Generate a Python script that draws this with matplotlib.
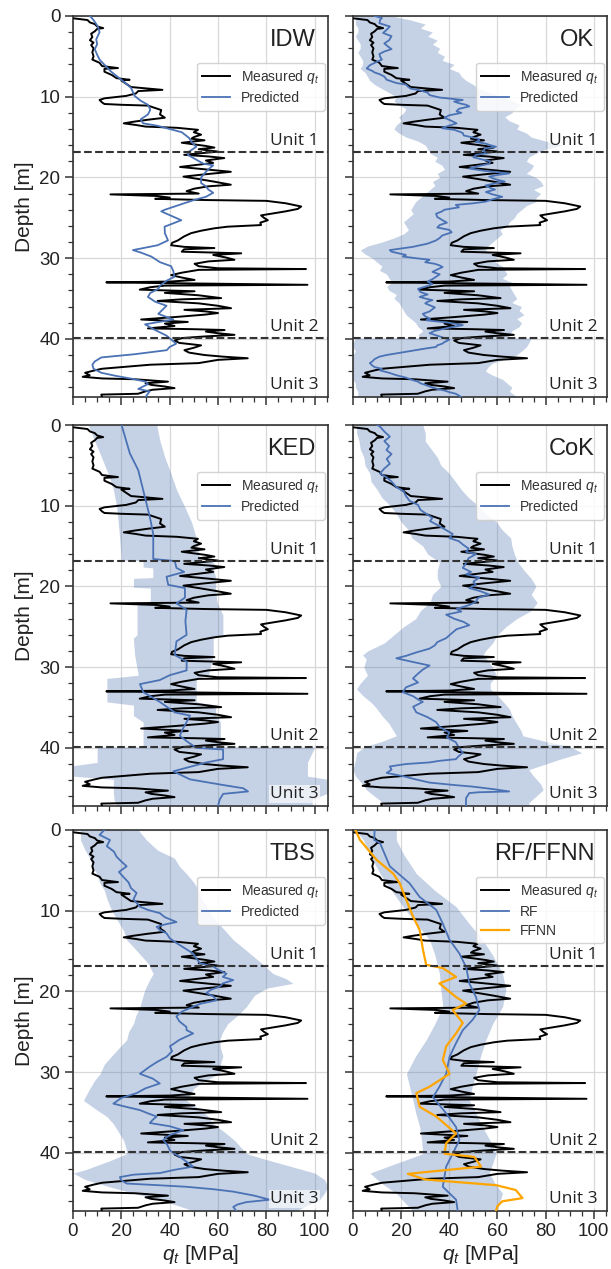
import numpy as np
import matplotlib
matplotlib.use('Agg')
import matplotlib.pyplot as plt
import matplotlib.transforms as mtransforms
from matplotlib.ticker import MultipleLocator

plt.rcParams['font.family'] = ['Liberation Sans', 'DejaVu Sans']
plt.rcParams['mathtext.fontset'] = 'custom'
plt.rcParams['mathtext.it'] = 'Liberation Sans:italic'
plt.rcParams['mathtext.rm'] = 'Liberation Sans'

# ---------------- data ----------------
unit_boundaries = [16.8, 39.85]

meas_depth = [0.3, 0.5, 0.8, 1.0, 1.3, 1.5, 1.6, 1.9, 2.2, 2.6, 3.0, 3.3, 3.6, 4.0, 4.5, 5.0, 5.4, 5.8, 6.2, 6.45,
              6.55, 6.9, 7.3, 7.7, 7.9, 8.0, 8.4, 8.8, 9.15, 9.3, 9.6, 9.9, 10.2, 10.4, 10.7, 10.9, 11.0, 11.1, 11.4, 11.65,
              12.2, 12.6, 12.85, 13.1, 13.3, 13.5, 13.7, 13.85, 14.1, 14.4, 14.7, 15.0, 15.2, 15.4, 15.7, 15.9, 16.1, 16.3, 16.5, 16.8,
              17.0, 17.2, 17.4, 17.6, 17.9, 18.2, 18.5, 18.7, 19.0, 19.3, 19.6, 19.9, 20.2, 20.5, 20.9, 21.1, 21.4, 21.7, 22.0, 22.1,
              22.3, 22.5, 22.65, 22.8, 22.9, 23.2, 23.6, 23.9, 24.2, 24.5, 24.7, 25.0, 25.3, 25.6, 25.9, 26.1, 26.3, 26.6, 26.9, 27.3,
              27.8, 28.1, 28.4, 28.6, 28.75, 28.9, 29.2, 29.4, 29.6, 29.9, 30.2, 30.4, 30.7, 31.0, 31.25, 31.35, 31.45, 31.8, 32.1, 32.4,
              32.7, 32.9, 33.0, 33.1, 33.3, 33.4, 33.6, 33.9, 34.1, 34.3, 34.6, 34.95, 35.1, 35.3, 35.6, 35.9, 36.2, 36.4, 36.6, 36.8,
              37.0, 37.3, 37.6, 37.9, 38.1, 38.4, 38.7, 38.8, 38.9, 39.1, 39.3, 39.5, 39.7, 39.9, 40.2, 40.5, 40.8, 41.1, 41.4, 41.7,
              42.0, 42.2, 42.4, 42.6, 43.0, 43.2, 43.5, 43.7, 43.9, 44.2, 44.5, 44.7, 44.9, 45.0, 45.3, 45.5, 45.7, 45.9, 46.1, 46.3,
              46.5, 46.8, 46.9, 47.2]
meas_qt = [0.5, 6, 7, 9, 10, 12.5, 10, 9, 7.5, 8, 7, 8.5, 7.5, 8.5, 8, 8.5, 8, 11, 12, 18.6,
           13, 13, 16, 18, 23.4, 20, 22, 24, 37, 27, 26, 22, 13, 11, 12, 13, 20, 31, 34, 36.5,
           36, 38, 31, 25, 21, 26, 30, 43, 51.7, 50, 53, 50, 49, 54.4, 45, 50, 55, 58.5, 52, 60,
           53, 46, 56, 62.6, 55, 58, 50, 44.3, 55, 65.3, 55, 45.7, 52, 58, 65.3, 56, 50, 47, 52, 15.5,
           35, 40, 34, 55, 80, 88, 94.4, 93, 88, 82, 77.8, 79, 80.6, 77.5, 77.8, 64, 58.5, 53, 48.9, 46,
           43.4, 41, 40.6, 46, 58.5, 46, 45, 69.6, 58, 63, 66.8, 56, 50.3, 52, 60, 96.4, 52, 45, 40.6, 45,
           50.3, 40, 13.8, 40, 97, 38, 32, 27.6, 50.3, 38, 52, 61.3, 45, 35, 52, 60, 65.4, 46.1, 55, 60,
           54.4, 42, 28.2, 47.5, 38, 42, 31, 50, 62.7, 55, 60, 66.8, 54.4, 45, 42, 44, 53, 50, 46.1, 48,
           54.4, 62, 72.3, 60, 52, 32, 20, 12, 9, 5, 6.9, 4, 12, 25.5, 39.3, 30, 32.4, 38, 42, 33,
           30, 26.9, 11.7, 12]

# IDW prediction
idw_depth = [0, 0.5, 1.3, 2.0, 2.9, 3.5, 4.1, 4.8, 5.4, 6.2, 6.9, 7.9, 8.9, 9.9, 10.5, 11.0, 11.6, 12.2, 12.8, 13.3,
             13.6, 14.0, 14.4, 15.1, 15.6, 16.2, 16.8, 17.2, 17.8, 18.3, 18.5, 19.0, 19.3, 20.0, 20.7, 21.1, 21.5, 21.9, 22.4, 22.8,
             23.3, 24.0, 24.2, 24.8, 25.3, 26.1, 26.9, 27.8, 28.4, 29.0, 29.3, 29.8, 30.5, 31.0, 31.6, 32.3, 32.8, 33.4, 33.8, 34.3,
             34.8, 35.4, 35.9, 36.4, 36.9, 37.6, 38.2, 38.9, 39.6, 40.6, 41.0, 41.4, 41.9, 42.3, 42.8, 43.2, 43.7, 44.2, 44.6, 45.0,
             45.3, 45.6, 46.2, 46.5, 47.2]
idw_qt = [7, 8.5, 10.3, 11, 9.6, 10, 9, 10, 11, 13.5, 15.8, 20, 24, 25.5, 28, 31, 32, 31, 28, 29,
          35, 40, 45, 48, 49, 51, 48, 47.5, 51, 54, 58, 56, 55, 53, 53, 55, 56, 58, 55, 50,
          45, 38, 36.5, 41, 44.8, 37.9, 38, 39.3, 35, 24.8, 28, 32.4, 36, 40.6, 41.5, 42, 38.7, 36, 35.3, 32,
          31, 34, 38.7, 37, 35.3, 41.5, 29.8, 34, 38.7, 42.7, 40, 38.8, 25.5, 11.7, 9, 8, 8.5, 11.7, 18, 25.5,
          30, 31, 27, 31.7, 30]

# OK prediction and band
ok_depth = [0, 0.25, 0.5, 0.9, 1.3, 1.7, 2.1, 2.5, 3.0, 3.4, 3.8, 4.1, 4.4, 4.7, 5.0, 5.4, 5.8, 6.1, 6.5, 6.8,
            7.0, 7.2, 7.5, 7.9, 8.3, 8.5, 8.8, 9.0, 9.2, 9.5, 9.8, 10.1, 10.4, 10.6, 10.8, 11.0, 11.2, 11.5, 11.8, 12.0,
            12.3, 12.6, 13.0, 13.3, 13.7, 13.9, 14.1, 14.3, 14.5, 14.8, 15.0, 15.2, 15.4, 15.6, 15.8, 16.0, 16.2, 16.4, 16.7, 17.0,
            17.2, 17.5, 17.8, 18.0, 18.3, 18.6, 18.9, 19.2, 19.5, 19.7, 19.9, 20.1, 20.3, 20.5, 20.7, 21.0, 21.3, 21.5, 21.8, 22.1,
            22.4, 22.7, 23.0, 23.2, 23.4, 23.7, 24.0, 24.2, 24.5, 24.9, 25.3, 25.6, 25.9, 26.2, 26.5, 26.8, 27.2, 27.5, 27.8, 28.2,
            28.6, 28.8, 29.0, 29.2, 29.4, 29.6, 29.8, 30.0, 30.2, 30.5, 30.7, 30.9, 31.1, 31.4, 31.7, 32.0, 32.3, 32.6, 32.9, 33.2,
            33.5, 33.8, 34.2, 34.5, 34.8, 35.0, 35.2, 35.4, 35.6, 36.1, 36.6, 36.9, 37.2, 37.5, 37.7, 38.0, 38.3, 38.6, 38.8, 39.0,
            39.3, 39.7, 40.1, 40.4, 40.6, 40.8, 41.0, 41.2, 41.5, 41.8, 42.0, 42.2, 42.5, 42.8, 43.0, 43.3, 43.5, 43.7, 43.9, 44.2,
            44.5, 44.8, 45.1, 45.3, 45.5, 45.7, 45.9, 46.2, 46.4, 46.6, 46.8, 47.2]
ok_qt = [9, 12, 11.2, 11, 15.3, 14, 12.5, 16, 15, 13, 14.6, 16, 13, 11, 11.2, 12, 9, 7, 5.7, 8,
         9, 11, 13, 14, 18, 22, 23, 24, 27.7, 31, 31.8, 36, 45.6, 42, 44, 47, 48.3, 44, 43, 45,
         40, 38, 41, 43, 38.7, 37, 42, 44, 45.6, 46, 49, 52, 52.5, 51, 55, 57, 59.4, 55, 54, 56,
         51.1, 50, 54, 57, 56.6, 52, 48.3, 55, 64.9, 60, 56.6, 58, 60, 63, 59.4, 55, 57, 59, 55.2, 58,
         62, 58, 55, 50, 42.7, 44, 38, 37, 34.5, 35, 37.2, 39, 36, 35, 40, 41, 37, 36, 34.5, 31,
         24.8, 20, 15.3, 16, 19, 22, 20.7, 26, 31.8, 30, 34, 36, 37.2, 35, 33, 36, 34.5, 33, 31, 33,
         30.4, 27, 28, 31, 27.7, 30, 33, 31, 30, 34, 31.8, 29, 30, 32, 30.4, 40, 45.6, 40, 37, 34,
         31.8, 36, 40, 38, 37, 35, 34.5, 30, 24, 18, 13.9, 11, 9, 8, 7, 8, 9, 12, 11.2, 15,
         18, 22, 24.8, 27, 28, 30, 31.8, 35, 38, 40, 42.7, 45]
ok_band_depth = [0, 0.5, 1, 1.5, 2, 2.5, 3, 3.5, 4, 4.5, 5, 5.5, 6, 6.5, 7, 7.5, 8, 8.5, 9, 9.5,
                 10, 10.5, 11, 11.5, 12, 12.5, 13, 13.5, 14, 14.5, 15, 15.5, 16, 16.5, 17, 17.5, 18, 18.5, 19, 19.5,
                 20, 20.5, 21, 21.5, 22, 22.5, 23, 23.5, 24, 24.5, 25, 25.5, 26, 26.5, 27, 27.5, 28, 28.5, 29, 29.5,
                 30, 30.5, 31, 31.5, 32, 32.5, 33, 33.5, 34, 34.5, 35, 35.5, 36, 36.5, 37, 37.5, 38, 38.5, 39, 39.5,
                 39.85, 39.9, 40.5, 41, 41.5, 42, 42.5, 43, 43.5, 44, 44.5, 45, 45.5, 46, 46.5, 47.2]
ok_lo = [1, 1, 1, 2, 2, 1, 2, 3, 3, 2, 3, 4, 4, 3, 5, 6, 7, 9, 12, 15,
         18, 17, 19, 22, 21, 19, 20, 18, 17, 19, 22, 27, 30, 31, 32, 35, 34, 37, 38, 35,
         36, 33, 34, 32, 30, 28, 26, 25, 24, 25, 23, 21, 22, 23, 21, 17, 12, 6, 3, 5,
         8, 10, 12, 11, 14, 15, 16, 14, 15, 18, 17, 19, 20, 21, 22, 24, 26, 27, 29, 27,
         28, 1, 0, 0, 1, 0, 0, 0, 0, 0, 0, 0, 1, 1, 2, 2]
ok_hi = [16, 24, 30, 28, 33, 31, 35, 33, 36, 35, 38, 37, 42, 40, 44, 45, 47, 50, 52, 57,
         62, 66, 70, 67, 66, 63, 65, 69, 68, 72, 74, 80, 87, 80, 76, 73, 72, 75, 74, 72,
         76, 78, 79, 75, 78, 76, 76, 72, 70, 68, 67, 65, 64, 61, 62, 60, 58, 56, 55, 58,
         60, 59, 62, 63, 64, 62, 66, 65, 66, 67, 68, 66, 70, 69, 71, 68, 70, 69, 66, 65,
         64, 74, 73, 72, 70, 68, 63, 58, 56, 55, 58, 62, 64, 66, 65, 68]

# KED prediction and band
ked_depth = [0, 3.5, 5.6, 9.0, 11.4, 13.5, 16.6, 16.85, 17.7, 18.2, 18.8, 19.8, 20.2, 21.4, 22.1, 22.9, 24.3, 26.0, 26.8, 28.5,
             29.3, 30.4, 31.0, 31.6, 32.1, 33.1, 34.3, 35.6, 36.0, 36.8, 37.6, 38.5, 39.3, 40.0, 40.2, 41.4, 41.8, 42.3, 42.9, 43.9,
             44.6, 45.0, 45.4, 45.7, 46.4, 47.2]
ked_qt = [20.1, 23.5, 27, 29.8, 31.8, 33.2, 33.2, 42.1, 42.8, 46, 38.7, 39.4, 46.3, 46.3, 42.8, 47, 46.5, 47, 42.8, 42.1,
          47, 47, 40, 35.9, 27.7, 29.1, 35.9, 42.1, 48.4, 47, 45.5, 44.2, 47.6, 51.1, 62.1, 62.1, 55.2, 49, 41.5, 48.4,
          62.1, 70.4, 72.4, 62.1, 60.7, 60]
ked_band_depth = [0, 2, 4, 6, 8, 10, 12, 14, 16.75, 16.8, 17.6, 17.7, 18.9, 19.0, 20.1, 20.2, 21.8, 22.3, 23.5, 26.0,
                  26.4, 28.5, 31.0, 31.4, 34.3, 34.7, 36.0, 36.8, 39.85, 39.9, 41.8, 42.2, 43.5, 43.9, 45.6, 46.4, 47.2]
ked_lo = [6.3, 9, 11.8, 14.5, 16.7, 18, 18.7, 19.3, 20, 29, 29, 33, 33, 25, 25, 32, 32, 26.5, 26.5, 26.5,
          25, 25.5, 27, 14, 14, 25, 25, 29, 29, 10, 10, 0, 0, 16.7, 16.7, 17, 18]
ked_hi = [34.6, 36, 38, 40.5, 42.8, 46, 49, 51, 52.5, 57, 60, 58, 59, 59, 59, 59, 59.5, 60, 62, 62,
          58, 58, 56, 51, 51, 59, 59, 61, 61, 100, 97, 97, 97, 105.5, 105.5, 99, 99]

# CoK prediction and band
cok_depth = [0, 0.2, 0.8, 1.45, 2.0, 2.6, 3.1, 3.6, 4.2, 4.8, 5.4, 6.0, 6.5, 7.0, 7.7, 8.2, 8.8, 9.4, 9.9, 10.5,
             11.0, 11.5, 11.9, 12.3, 12.9, 13.5, 14.0, 14.4, 14.8, 15.3, 15.7, 16.0, 16.5, 17.1, 17.7, 18.2, 18.5, 18.9, 19.4, 19.8,
             20.2, 20.6, 21.0, 21.4, 21.9, 22.3, 22.8, 23.1, 23.5, 24.0, 24.4, 24.8, 25.3, 25.8, 26.4, 26.9, 27.3, 27.7, 28.2, 28.6,
             28.9, 29.3, 29.8, 30.3, 30.8, 31.4, 31.9, 32.5, 33.1, 33.6, 34.0, 34.3, 34.9, 35.6, 36.2, 36.8, 37.4, 38.1, 38.7, 39.3,
             40.0, 40.6, 41.0, 41.4, 41.6, 41.8, 42.0, 42.3, 42.7, 43.1, 43.5, 43.9, 44.3, 44.6, 44.8, 45.1, 45.4, 45.5, 45.6, 46.2,
             46.8, 47.2]
cok_qt = [10, 11.2, 13, 15.3, 13, 15, 13.9, 16, 14, 15.3, 13, 11.2, 14, 16, 18, 21, 22, 23.5, 27, 28,
          30.4, 33, 32, 34.5, 38, 41.4, 40, 44, 45.6, 48, 47, 51.1, 48, 47, 45.6, 49, 47, 52.5, 50, 51,
          48.3, 53, 56.6, 52, 51, 48.3, 43, 45, 38.7, 42, 46, 48.3, 43, 41, 38.7, 35, 34, 31.8, 26, 22,
          18, 24, 31.8, 29, 27, 24.9, 27, 22, 20.7, 25, 27, 29, 25, 26.3, 31, 34.5, 36, 40, 39, 42.7,
          44, 45.6, 44, 42.7, 36, 31.8, 22, 15.3, 16, 14, 20.7, 26, 31.8, 42, 49.7, 58, 64.9, 52, 48.3, 47,
          46.9, 47]
cok_band_depth = [0, 1, 2, 3, 4, 5, 6, 7, 8, 9, 10, 11, 12, 13, 14, 15, 16, 17, 18, 19,
                  20, 21, 22, 23, 24, 25, 26, 27, 28, 28.5, 29, 30, 31, 32, 32.7, 33.5, 34.5, 35.2, 36, 37,
                  38, 38.5, 39.2, 39.85, 40.6, 41.5, 42.7, 43.5, 44.5, 45.2, 46, 46.8, 47.2]
cok_lo = [1.5, 1.5, 2.5, 3, 4.5, 5, 7, 7.5, 10, 12, 15.5, 18, 20, 23, 24.5, 29, 31, 36, 35, 35,
          36.5, 33, 32, 28, 26, 21, 17, 13, 6, 4, 5.5, 4.5, 6, 3, 1.5, 4, 8, 10, 12, 15,
          17, 18, 12, 5, 1.5, 1, 0, 1, 4, 5.6, 9, 12.5, 13]
cok_hi = [29, 30, 30, 32.5, 35, 36.5, 40, 42.5, 45, 48, 52, 55, 59.5, 62, 65.5, 66, 67, 68.5, 71, 74,
          76, 74, 76.5, 74, 68, 63.5, 60, 58, 55, 54, 55.5, 58, 59.5, 57, 57, 60, 63, 65, 66, 68,
          70, 70.5, 80, 90, 95, 85, 73, 75, 78, 79, 76, 73, 73]

# TBS prediction and band
tbs_depth = [0, 0.6, 1.24, 2.0, 2.7, 3.3, 3.9, 4.5, 5.2, 5.8, 6.5, 7.2, 7.8, 8.6, 9.5, 9.9, 10.3, 10.8, 11.4, 11.7,
             12.0, 12.4, 12.8, 13.4, 14.0, 14.6, 15.3, 15.9, 16.5, 16.9, 17.3, 17.8, 18.2, 18.6, 19.0, 19.4, 19.8, 20.2, 20.6, 21.1,
             21.5, 21.9, 22.5, 23.1, 23.7, 24.4, 24.8, 25.2, 26.0, 26.8, 27.4, 28.1, 28.7, 29.3, 29.7, 30.2, 30.8, 31.4, 32.0, 32.6,
             33.2, 33.9, 34.3, 34.7, 35.1, 35.5, 35.9, 36.3, 36.7, 37.2, 37.8, 38.4, 39.0, 39.7, 40.1, 40.5, 41.1, 41.7, 42.1, 42.5,
             42.7, 43.0, 43.4, 43.8, 44.0, 44.2, 44.5, 44.8, 45.3, 45.8, 46.1, 46.4, 46.7, 47.2]
tbs_qt = [13, 11, 15.3, 14, 17, 18, 20, 22.2, 19, 20.8, 23, 24, 26.3, 25, 27.7, 31, 35.9, 38, 42.8, 38,
          34.6, 36, 38.7, 40, 42.8, 46, 49.7, 51, 52.5, 58, 60, 63.5, 62, 66.3, 62, 60.7, 57, 55.2, 58, 59.4,
          53, 49.7, 45, 42.8, 44, 46.9, 47, 49.7, 44, 40.1, 41, 38.7, 35, 31.8, 30, 27.7, 33, 35.9, 30, 26.3,
          20, 16.7, 22, 27.7, 31, 34.6, 33, 31.8, 40, 45.6, 40, 37.3, 39, 40.1, 42, 44.2, 47, 49.7, 42, 35.9,
          25, 19.4, 20, 22.2, 35, 46.9, 58, 66.3, 75, 81.4, 71.7, 68, 66.3, 67.6]
tbs_band_depth = [0, 1.24, 2.5, 3.5, 4.5, 5.4, 6.5, 7.5, 8.5, 9.5, 10.5, 11.5, 12.5, 13.6, 14.5, 15.5, 16.5, 17.8, 18.4, 19.0,
                  19.6, 20.5, 21.9, 23, 24, 25, 26.0, 27, 28, 29, 30.2, 31, 32, 33.5, 34.5, 35.5, 36.4, 37.5, 38.5, 39.5,
                  40.1, 41, 42.1, 42.5, 43.3, 44.2, 45, 45.8, 46.5, 47.2]
tbs_lo = [3, 3.1, 5, 7, 8, 9.8, 11, 13, 14, 15.3, 17, 19, 21, 22.2, 25, 28, 31, 33.2, 32, 31,
          30, 29, 27.7, 26, 25, 23, 22.2, 19, 16, 13, 11.2, 9, 7, 4.3, 9, 14, 16.7, 19, 21, 22,
          22.2, 15, 5, 0.1, 5, 15, 25, 35.9, 43, 50]
tbs_hi = [27, 30.4, 35, 42, 44, 46.9, 50, 52, 53, 55.2, 57, 60, 63, 66.3, 70, 74, 78, 82.8, 88, 91,
          80, 75, 71.7, 68, 64, 62, 60.7, 61, 62, 61, 60.7, 55, 50, 46.9, 52, 56, 58, 63, 67, 70,
          71.7, 82, 95.2, 100, 104, 105.5, 104, 102, 97, 92]

# RF / FFNN predictions and RF band
rf_depth = [0, 1.24, 1.6, 4.5, 6.6, 8.3, 9.9, 11.6, 13.6, 15.3, 17.0, 19.0, 20.7, 22.3, 23.5, 24.8, 26.4, 28.1, 30.2, 31.8,
            33.1, 35.1, 36.8, 38.4, 40.1, 41.7, 44.2, 45.8, 47.2]
rf_qt = [9, 8.8, 11.2, 15.3, 23.5, 27.7, 34.6, 37.3, 40.1, 44.2, 47, 48.3, 51.1, 52.5, 49.7, 45.6, 42.8, 40.1, 38.7, 35.9,
         33.2, 38.7, 42.8, 44.2, 41.4, 38.7, 37.3, 42.8, 43.5]
rf_band_depth = [0, 1.24, 3, 5.4, 7.5, 9.5, 11.5, 13.6, 15.5, 17.8, 19.8, 21.9, 24, 26.0, 28, 30.2, 31.8, 33.5, 35, 36.8,
                 38.5, 40.1, 41.3, 42.5, 43.8, 45.0, 46, 47.2]
rf_lo = [1, 4.3, 7, 11.2, 16, 20.8, 26, 31.8, 34, 35.9, 36.5, 37.3, 34, 30.4, 26, 22.2, 23.5, 24.9, 26, 27.7,
         28.5, 29, 18, 7, 12, 18, 21, 24.9]
rf_hi = [18, 18, 21, 26.3, 34, 42.8, 48, 53.8, 58, 62.1, 63.5, 62.1, 58, 55.2, 53, 51.1, 49.5, 48.3, 51, 53.8,
         57, 59.4, 58, 56.6, 59, 62.1, 61, 60]
ffnn_depth = [0, 1.24, 3.7, 5.4, 6.6, 8.7, 10.7, 12.4, 14.9, 16.7, 17.1, 18.2, 19.0, 20.7, 21.5, 22.3, 23.9, 25.2, 26.8, 28.5,
              30.2, 31.8, 32.6, 34.3, 35.5, 37.6, 38.8, 40.1, 40.5, 41.7, 42.6, 43.3, 44.0, 44.6, 45.6, 46.0, 46.6, 47.2]
ffnn_qt = [1, 2.9, 9.8, 16.7, 19.4, 22.2, 24.9, 27.7, 29.1, 30.4, 37.3, 42.8, 35.9, 42.8, 47, 41.4, 45.6, 42.8, 38.7, 37.3,
           40.1, 31.8, 26.3, 27.7, 34.6, 42.8, 38.7, 38, 50.4, 53.2, 22.8, 30, 59.4, 67.6, 70.4, 62, 60, 59.4]

panels = [
    ('IDW', idw_depth, idw_qt, None),
    ('OK', ok_depth, ok_qt, (ok_band_depth, ok_lo, ok_hi)),
    ('KED', ked_depth, ked_qt, (ked_band_depth, ked_lo, ked_hi)),
    ('CoK', cok_depth, cok_qt, (cok_band_depth, cok_lo, cok_hi)),
    ('TBS', tbs_depth, tbs_qt, (tbs_band_depth, tbs_lo, tbs_hi)),
    ('RF/FFNN', rf_depth, rf_qt, (rf_band_depth, rf_lo, rf_hi)),
]

# ---------------- figure ----------------
W, H = 611, 1269
fig = plt.figure(figsize=(W / 100, H / 100), dpi=100)
lefts = [73, 353]
widths = [255, 254]
tops = [16, 425, 830]
ax_h = 381

BLUE = '#4a72b5'
BAND = '#4c72b0'
SPINE = '#333333'

for i, (name, pd_, pq, band) in enumerate(panels):
    row, col = divmod(i, 2)
    l, w, t = lefts[col], widths[col], tops[row]
    ax = fig.add_axes([l / W, 1 - (t + ax_h) / H, w / W, ax_h / H])
    ax.set_xlim(0, 105.5)
    ax.set_ylim(47.2, 0)
    ax.xaxis.set_major_locator(MultipleLocator(20))
    ax.xaxis.set_minor_locator(MultipleLocator(5))
    ax.yaxis.set_major_locator(MultipleLocator(10))
    ax.yaxis.set_minor_locator(MultipleLocator(2))
    ax.grid(True, which='major', color='#d8d8d8', lw=0.9)
    ax.set_axisbelow(True)
    ax.tick_params(which='major', direction='out', length=6, width=1.1, labelsize=13.5,
                   color=SPINE, labelcolor='#222222', pad=3)
    ax.tick_params(which='minor', direction='out', length=3.5, width=0.9, color=SPINE)
    for sp in ax.spines.values():
        sp.set_color(SPINE)
        sp.set_linewidth(1.2)

    if band is not None:
        bd, blo, bhi = band
        ax.fill_betweenx(bd, blo, bhi, color=BAND, alpha=0.32, lw=0, zorder=1)
    hm, = ax.plot(meas_qt, meas_depth, color='black', lw=1.4, zorder=3, label=r'Measured $q_t$')
    if name == 'RF/FFNN':
        hp, = ax.plot(pq, pd_, color=BLUE, lw=1.3, zorder=4, label='RF')
        hf, = ax.plot(ffnn_qt, ffnn_depth, color='orange', lw=1.6, zorder=5, label='FFNN')
        handles = [hm, hp, hf]
    else:
        hp, = ax.plot(pq, pd_, color=BLUE, lw=1.3, zorder=4, label='Predicted')
        handles = [hm, hp]

    for ub in unit_boundaries:
        ax.axhline(ub, color=SPINE, ls='--', lw=1.5, zorder=6)

    trans = mtransforms.blended_transform_factory(ax.transAxes, ax.transData)
    bb = dict(facecolor='white', alpha=0.65, edgecolor='none', pad=1.0)
    ax.text(0.965, unit_boundaries[0] - 0.35, 'Unit 1', transform=trans, ha='right', va='bottom',
            fontsize=12.5, family=['Open Sans', 'DejaVu Sans'], color='#222222', zorder=7, bbox=bb)
    ax.text(0.965, unit_boundaries[1] - 0.35, 'Unit 2', transform=trans, ha='right', va='bottom',
            fontsize=12.5, family=['Open Sans', 'DejaVu Sans'], color='#222222', zorder=7, bbox=bb)
    ax.text(0.965, 45.7, 'Unit 3', transform=trans, ha='right', va='center',
            fontsize=12.5, family=['Open Sans', 'DejaVu Sans'], color='#222222', zorder=7, bbox=bb)

    ax.text(0.95, 0.937, name, transform=ax.transAxes, ha='right', va='center',
            fontsize=17, color='#222222', zorder=7)

    leg = ax.legend(handles=handles, loc='upper right', bbox_to_anchor=(1.0, 0.885),
                    borderaxespad=0.2, fontsize=10, frameon=True, framealpha=0.85,
                    edgecolor='#cccccc', fancybox=True, handlelength=2.0, labelspacing=0.35)
    leg.set_zorder(8)
    for txt in leg.get_texts():
        txt.set_color('#333333')

    if row < 2:
        ax.tick_params(labelbottom=False)
    else:
        ax.set_xlabel(r'$q_t$ [MPa]', fontsize=15, color='#222222', labelpad=2)
    if col == 1:
        ax.tick_params(labelleft=False)
    else:
        ax.set_ylabel('Depth [m]', fontsize=15, color='#222222', labelpad=4)

fig.savefig('out.png', dpi=100)
